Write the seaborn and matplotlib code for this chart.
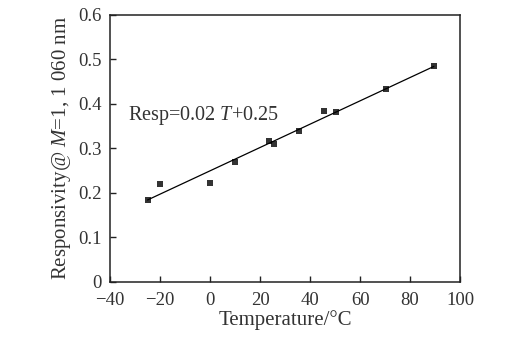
import matplotlib
matplotlib.use("Agg")
import matplotlib.pyplot as plt
import seaborn as sns
import numpy as np
import pandas as pd
from matplotlib.ticker import FixedLocator, FuncFormatter

# Data
temperature = [-25, -20, 0, 10, 23.5, 25.5, 35.5, 45.5, 50.5, 70.5, 89.5]
responsivity = [0.184, 0.221, 0.223, 0.269, 0.317, 0.309, 0.339, 0.383, 0.382, 0.433, 0.486]
x_ticks = [-40, -20, 0, 20, 40, 60, 80, 100]
y_ticks = [0, 0.1, 0.2, 0.3, 0.4, 0.5, 0.6]
equation_text = r"Resp=0.02 $T$+0.25"
x_label = "Temperature/°C"
y_label = r"Responsivity@ $M$=1, 1 060 nm"

sns.set_style("ticks")
plt.rcParams["font.family"] = ["Liberation Serif", "DejaVu Serif"]
plt.rcParams["mathtext.fontset"] = "custom"
plt.rcParams["mathtext.rm"] = "Liberation Serif"
plt.rcParams["mathtext.it"] = "Liberation Serif:italic"
plt.rcParams["axes.unicode_minus"] = True

df = pd.DataFrame({"T": temperature, "R": responsivity})

fig = plt.figure(figsize=(5.24, 3.38), dpi=100)
ax = fig.add_axes([0.21, 0.166, 0.668, 0.79])

sns.regplot(data=df, x="T", y="R", ax=ax, ci=None, marker="s", color="black",
            scatter_kws={"s": 14, "linewidths": 0}, line_kws={"lw": 0.9}, truncate=True)

ax.set_xlim(-40, 100)
ax.set_ylim(0, 0.6)
ax.xaxis.set_major_locator(FixedLocator(x_ticks))
ax.yaxis.set_major_locator(FixedLocator(y_ticks))
ax.yaxis.set_major_formatter(FuncFormatter(lambda v, p: "0" if abs(v) < 1e-9 else f"{v:.1f}"))
ax.xaxis.set_major_formatter(FuncFormatter(lambda v, p: f"{int(round(v))}".replace("-", "\u2212")))

ax.tick_params(axis="both", direction="in", length=4, width=1.0, labelsize=13.5,
               top=False, right=False, colors="#222222", labelcolor="#333333")
ax.tick_params(axis="x", pad=7)
ax.tick_params(axis="y", pad=6)
for s in ax.spines.values():
    s.set_visible(True)
    s.set_linewidth(1.1)
    s.set_color("#222222")

ax.set_xlabel(x_label, fontsize=15, labelpad=1, color="#333333")
ax.set_ylabel(y_label, fontsize=15, labelpad=4, color="#333333")

ax.text(-33, 0.375, equation_text, fontsize=14.5, va="center", ha="left", color="#333333")

fig.savefig("out.png", dpi=100)
